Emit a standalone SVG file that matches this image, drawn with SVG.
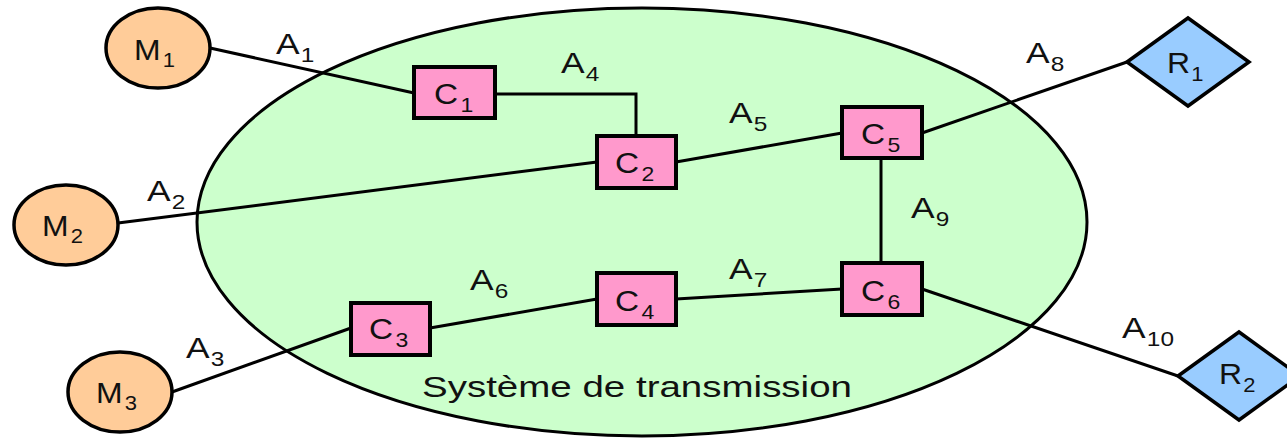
<svg xmlns="http://www.w3.org/2000/svg" width="1287" height="439" viewBox="0 0 1287 439">
<style>
.sys{fill:#CCFFCC;stroke:#000;stroke-width:3}
.m{fill:#FFCC99;stroke:#000;stroke-width:3.5}
.c{fill:#FF99CC;stroke:#000;stroke-width:4}
.r{fill:#99CCFF;stroke:#000;stroke-width:3.5}
.ln{fill:none;stroke:#000;stroke-width:3}
text{font-family:"Liberation Sans",Arial,sans-serif;fill:#111;font-size:29px}
.s{font-size:20px}
</style>
<rect width="1287" height="439" fill="#fff"/>
<g id="systeme">
<ellipse class="sys" cx="642" cy="222" rx="445" ry="214"/>
<text x="422" y="397" font-size="28" textLength="430" lengthAdjust="spacingAndGlyphs">Système de transmission</text>
</g>
<g id="connectors">
<line class="ln" x1="210" y1="48" x2="414" y2="93"/>
<polyline class="ln" points="495,94 636,94 636,136"/>
<line class="ln" x1="118" y1="223" x2="597" y2="162"/>
<line class="ln" x1="676" y1="162" x2="842" y2="133"/>
<line class="ln" x1="922" y1="133" x2="1127" y2="62"/>
<line class="ln" x1="881" y1="158" x2="881" y2="263"/>
<line class="ln" x1="172" y1="392" x2="351" y2="328"/>
<line class="ln" x1="430" y1="328" x2="597" y2="299"/>
<line class="ln" x1="676" y1="299" x2="842" y2="289"/>
<line class="ln" x1="922" y1="289" x2="1178" y2="376"/>
<text transform="translate(276,54) scale(1.22,1)">A<tspan class="s" dx="1" dy="8">1</tspan></text>
<text transform="translate(147,201) scale(1.22,1)">A<tspan class="s" dx="1" dy="8">2</tspan></text>
<text transform="translate(186,358) scale(1.22,1)">A<tspan class="s" dx="1" dy="8">3</tspan></text>
<text transform="translate(561,73) scale(1.22,1)">A<tspan class="s" dx="1" dy="8">4</tspan></text>
<text transform="translate(729,123) scale(1.22,1)">A<tspan class="s" dx="1" dy="8">5</tspan></text>
<text transform="translate(470,290) scale(1.22,1)">A<tspan class="s" dx="1" dy="8">6</tspan></text>
<text transform="translate(729,279) scale(1.22,1)">A<tspan class="s" dx="1" dy="8">7</tspan></text>
<text transform="translate(1026,63) scale(1.22,1)">A<tspan class="s" dx="1" dy="8">8</tspan></text>
<text transform="translate(911,218) scale(1.22,1)">A<tspan class="s" dx="1" dy="8">9</tspan></text>
<text transform="translate(1122,338) scale(1.22,1)">A<tspan class="s" dx="1" dy="8">10</tspan></text>
</g>
<g id="M1"><ellipse class="m" cx="158" cy="48" rx="52" ry="40"/><text transform="translate(134,60) scale(1.1,1)">M<tspan class="s" dx="2" dy="7">1</tspan></text></g>
<g id="M2"><ellipse class="m" cx="66" cy="225" rx="52" ry="40"/><text transform="translate(42,236) scale(1.1,1)">M<tspan class="s" dx="2" dy="7">2</tspan></text></g>
<g id="M3"><ellipse class="m" cx="120" cy="392" rx="52" ry="40"/><text transform="translate(96,403) scale(1.1,1)">M<tspan class="s" dx="2" dy="7">3</tspan></text></g>
<g id="C1"><rect class="c" x="414" y="67" width="81" height="51"/><text transform="translate(434,104) scale(1.15,1)">C<tspan class="s" dx="2" dy="8">1</tspan></text></g>
<g id="C2"><rect class="c" x="597" y="136" width="79" height="52"/><text transform="translate(615,173) scale(1.15,1)">C<tspan class="s" dx="2" dy="8">2</tspan></text></g>
<g id="C3"><rect class="c" x="351" y="303" width="79" height="52"/><text transform="translate(369,339) scale(1.15,1)">C<tspan class="s" dx="2" dy="8">3</tspan></text></g>
<g id="C4"><rect class="c" x="597" y="273" width="79" height="52"/><text transform="translate(615,311) scale(1.15,1)">C<tspan class="s" dx="2" dy="8">4</tspan></text></g>
<g id="C5"><rect class="c" x="842" y="107" width="80" height="51"/><text transform="translate(861,144) scale(1.15,1)">C<tspan class="s" dx="2" dy="8">5</tspan></text></g>
<g id="C6"><rect class="c" x="842" y="263" width="80" height="52"/><text transform="translate(861,301) scale(1.15,1)">C<tspan class="s" dx="2" dy="8">6</tspan></text></g>
<g id="R1"><polygon class="r" points="1127,62 1188,18 1249,62 1188,106"/><text transform="translate(1167,73) scale(1.1,1)">R<tspan class="s" dx="1" dy="8">1</tspan></text></g>
<g id="R2"><polygon class="r" points="1178,376 1239,332 1300,376 1239,420"/><text transform="translate(1219,384) scale(1.1,1)">R<tspan class="s" dx="1" dy="8">2</tspan></text></g>
</svg>
